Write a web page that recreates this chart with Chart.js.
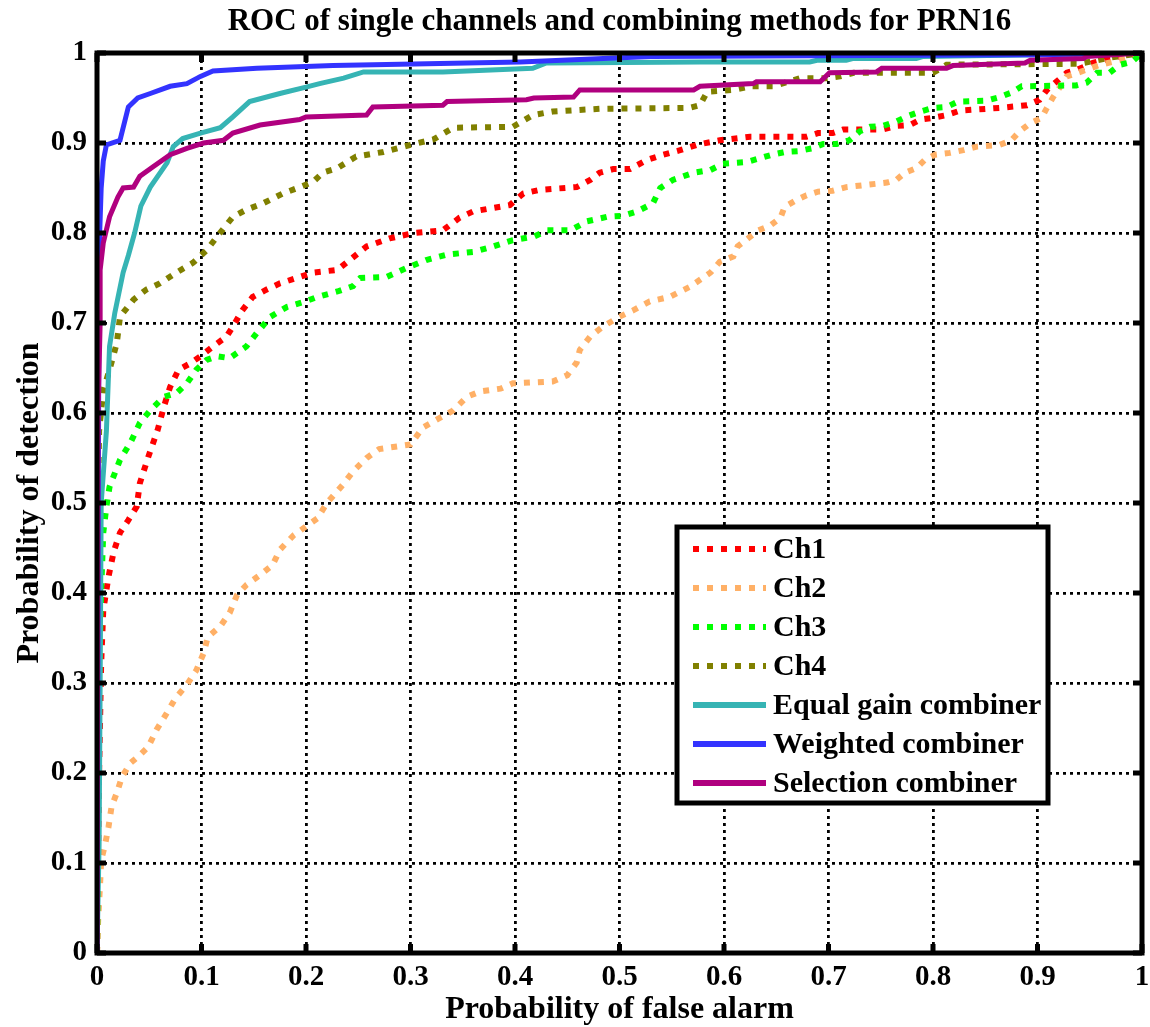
<!DOCTYPE html>
<html>
<head>
<meta charset="utf-8">
<script src="https://cdn.jsdelivr.net/npm/chart.js@4.4.1/dist/chart.umd.min.js"></script>
<style>
  body { margin: 0; background: #fff; }
  #wrap { width: 1150px; height: 1027px; }
</style>
</head>
<body>
<div id="wrap"><canvas id="rocChart" width="1150" height="1027"></canvas></div>
<script>
// ROC curves: each point is [false alarm probability, detection probability]
const seriesNames = ['Ch1', 'Ch2', 'Ch3', 'Ch4', 'Equal gain combiner', 'Weighted combiner', 'Selection combiner'];
const seriesColors = ['#ff0000', '#ffb066', '#00ff00', '#808000', '#36b4b4', '#3333ff', '#b0007f'];
const seriesDotted = [true, true, true, true, false, false, false];

const ch1 = [[0,0],[0.002,0.2],[0.004,0.322],[0.006,0.381],[0.011,0.418],[0.016,0.446],[0.022,0.467],[0.03,0.481],[0.038,0.496],[0.041,0.522],[0.049,0.551],[0.058,0.581],[0.064,0.607],[0.07,0.629],[0.078,0.648],[0.089,0.655],[0.099,0.663],[0.111,0.674],[0.124,0.685],[0.13,0.696],[0.139,0.714],[0.149,0.729],[0.162,0.737],[0.175,0.744],[0.191,0.75],[0.207,0.756],[0.23,0.759],[0.242,0.77],[0.258,0.785],[0.28,0.794],[0.303,0.8],[0.331,0.803],[0.347,0.817],[0.36,0.824],[0.395,0.831],[0.408,0.844],[0.424,0.848],[0.459,0.851],[0.472,0.859],[0.481,0.867],[0.494,0.871],[0.51,0.871],[0.526,0.881],[0.542,0.887],[0.558,0.892],[0.574,0.898],[0.596,0.903],[0.625,0.907],[0.679,0.907],[0.69,0.911],[0.704,0.911],[0.714,0.915],[0.752,0.915],[0.765,0.919],[0.778,0.92],[0.788,0.926],[0.8,0.928],[0.813,0.931],[0.826,0.936],[0.864,0.939],[0.89,0.942],[0.902,0.948],[0.909,0.959],[0.918,0.968],[0.928,0.978],[0.937,0.981],[0.953,0.989],[0.969,0.994],[1,1]];

const ch2 = [[0,0],[0.001,0.033],[0.003,0.078],[0.004,0.103],[0.008,0.122],[0.011,0.14],[0.014,0.163],[0.019,0.178],[0.024,0.196],[0.032,0.211],[0.041,0.22],[0.049,0.229],[0.057,0.248],[0.067,0.267],[0.075,0.283],[0.086,0.298],[0.095,0.314],[0.102,0.333],[0.106,0.351],[0.118,0.363],[0.127,0.378],[0.134,0.398],[0.143,0.409],[0.156,0.42],[0.168,0.431],[0.175,0.448],[0.188,0.464],[0.2,0.474],[0.211,0.483],[0.22,0.5],[0.235,0.52],[0.245,0.535],[0.258,0.55],[0.27,0.56],[0.3,0.565],[0.312,0.584],[0.341,0.603],[0.354,0.618],[0.367,0.624],[0.386,0.627],[0.398,0.633],[0.436,0.635],[0.45,0.642],[0.459,0.656],[0.462,0.67],[0.472,0.685],[0.484,0.696],[0.5,0.707],[0.513,0.714],[0.529,0.724],[0.548,0.729],[0.567,0.74],[0.587,0.756],[0.596,0.768],[0.609,0.774],[0.613,0.785],[0.623,0.794],[0.633,0.803],[0.644,0.808],[0.654,0.817],[0.658,0.829],[0.67,0.837],[0.679,0.842],[0.69,0.846],[0.704,0.847],[0.717,0.851],[0.756,0.856],[0.765,0.859],[0.773,0.867],[0.784,0.872],[0.792,0.881],[0.802,0.887],[0.816,0.889],[0.829,0.892],[0.842,0.896],[0.864,0.898],[0.875,0.903],[0.883,0.913],[0.893,0.922],[0.904,0.928],[0.909,0.939],[0.915,0.951],[0.922,0.963],[0.928,0.974],[0.941,0.979],[0.96,0.987],[0.979,0.992],[1,1]];

const ch3 = [[0,0],[0.002,0.3],[0.004,0.403],[0.006,0.467],[0.009,0.496],[0.012,0.518],[0.022,0.548],[0.032,0.567],[0.041,0.589],[0.051,0.603],[0.064,0.618],[0.076,0.622],[0.086,0.633],[0.095,0.648],[0.105,0.659],[0.115,0.663],[0.127,0.661],[0.143,0.674],[0.153,0.689],[0.166,0.707],[0.182,0.718],[0.197,0.723],[0.211,0.729],[0.23,0.735],[0.245,0.741],[0.252,0.75],[0.277,0.751],[0.296,0.761],[0.315,0.77],[0.335,0.776],[0.36,0.779],[0.379,0.785],[0.398,0.792],[0.418,0.796],[0.431,0.803],[0.453,0.803],[0.469,0.813],[0.488,0.818],[0.503,0.819],[0.517,0.824],[0.532,0.833],[0.539,0.85],[0.551,0.859],[0.571,0.867],[0.587,0.87],[0.599,0.877],[0.622,0.879],[0.634,0.883],[0.646,0.887],[0.658,0.89],[0.671,0.891],[0.684,0.894],[0.695,0.899],[0.708,0.899],[0.72,0.903],[0.73,0.913],[0.74,0.918],[0.752,0.919],[0.765,0.924],[0.776,0.93],[0.788,0.935],[0.8,0.939],[0.813,0.94],[0.824,0.946],[0.851,0.947],[0.864,0.951],[0.875,0.956],[0.885,0.963],[0.937,0.964],[0.947,0.967],[0.957,0.978],[0.969,0.978],[0.979,0.987],[0.99,0.99],[1,1]];

const ch4 = [[0,0],[0.001,0.5],[0.002,0.58],[0.006,0.625],[0.012,0.648],[0.019,0.678],[0.022,0.707],[0.035,0.726],[0.047,0.737],[0.06,0.744],[0.076,0.756],[0.092,0.767],[0.105,0.781],[0.115,0.796],[0.13,0.818],[0.143,0.826],[0.159,0.833],[0.178,0.844],[0.194,0.851],[0.207,0.857],[0.216,0.867],[0.23,0.872],[0.248,0.885],[0.274,0.89],[0.3,0.898],[0.322,0.904],[0.341,0.917],[0.398,0.918],[0.417,0.931],[0.436,0.935],[0.481,0.938],[0.567,0.939],[0.577,0.942],[0.584,0.957],[0.609,0.959],[0.625,0.963],[0.647,0.963],[0.673,0.972],[0.698,0.972],[0.711,0.974],[0.724,0.978],[0.8,0.978],[0.813,0.987],[0.94,0.988],[0.97,0.995],[1,1]];

const equalGain = [[0,0],[0.002,0.12],[0.003,0.3],[0.004,0.5],[0.009,0.58],[0.012,0.674],[0.017,0.711],[0.025,0.756],[0.03,0.775],[0.036,0.8],[0.042,0.83],[0.051,0.851],[0.067,0.878],[0.073,0.896],[0.082,0.905],[0.099,0.911],[0.118,0.917],[0.13,0.929],[0.146,0.946],[0.175,0.955],[0.2,0.962],[0.213,0.966],[0.236,0.972],[0.255,0.979],[0.331,0.979],[0.417,0.983],[0.43,0.989],[0.577,0.99],[0.682,0.99],[0.689,0.992],[0.717,0.992],[0.724,0.994],[0.784,0.994],[0.79,0.996],[0.9,0.998],[1,1]];

const weighted = [[0,0],[0.002,0.78],[0.004,0.85],[0.006,0.88],[0.009,0.898],[0.022,0.903],[0.03,0.94],[0.039,0.95],[0.051,0.955],[0.07,0.963],[0.086,0.966],[0.099,0.974],[0.111,0.98],[0.153,0.983],[0.226,0.986],[0.405,0.99],[0.53,0.996],[0.9,0.998],[1,1]];

const selection = [[0,0],[0.001,0.6],[0.003,0.7],[0.003,0.759],[0.006,0.789],[0.012,0.818],[0.02,0.84],[0.025,0.85],[0.035,0.851],[0.041,0.863],[0.054,0.874],[0.07,0.887],[0.086,0.894],[0.102,0.9],[0.121,0.903],[0.13,0.911],[0.156,0.92],[0.194,0.926],[0.2,0.929],[0.258,0.931],[0.264,0.94],[0.331,0.942],[0.335,0.946],[0.411,0.948],[0.418,0.95],[0.456,0.951],[0.462,0.959],[0.571,0.959],[0.577,0.963],[0.628,0.966],[0.631,0.968],[0.692,0.968],[0.701,0.978],[0.746,0.979],[0.751,0.983],[0.813,0.983],[0.819,0.986],[0.888,0.989],[0.893,0.992],[0.944,0.994],[0.947,0.996],[1,1]];

const tickValues = [0, 0.1, 0.2, 0.3, 0.4, 0.5, 0.6, 0.7, 0.8, 0.9, 1];
const tickLabels = ['0', '0.1', '0.2', '0.3', '0.4', '0.5', '0.6', '0.7', '0.8', '0.9', '1'];
const chartTitle = 'ROC of single channels and combining methods for PRN16';

const allSeries = [ch1, ch2, ch3, ch4, equalGain, weighted, selection];
const FONT = "'Liberation Serif', 'Times New Roman', serif";

Chart.defaults.font.family = FONT;
Chart.defaults.font.weight = 'bold';
Chart.defaults.color = '#000';

// box frame with inward tick marks, drawn over the curves like MATLAB does
const frameAndTicks = {
    id: 'frameAndTicks',
    afterDatasetsDraw(chart) {
        const { ctx, chartArea: a, scales: { x, y } } = chart;
        ctx.save();
        ctx.strokeStyle = '#000';
        ctx.lineWidth = 5;
        ctx.strokeRect(a.left, a.top, a.right - a.left, a.bottom - a.top);
        ctx.beginPath();
        tickValues.forEach(v => {
            const px = x.getPixelForValue(v);
            const py = y.getPixelForValue(v);
            ctx.moveTo(px, a.bottom); ctx.lineTo(px, a.bottom - 9);
            ctx.moveTo(px, a.top); ctx.lineTo(px, a.top + 9);
            ctx.moveTo(a.left, py); ctx.lineTo(a.left + 9, py);
            ctx.moveTo(a.right, py); ctx.lineTo(a.right - 9, py);
        });
        ctx.stroke();
        ctx.restore();
    }
};

// title centred over the plot box, plus the legend box in the lower right
const titleAndLegend = {
    id: 'titleAndLegend',
    afterDraw(chart) {
        const { ctx, chartArea: a } = chart;
        ctx.save();
        ctx.fillStyle = '#000';
        ctx.font = 'bold 31px ' + FONT;
        ctx.textAlign = 'center';
        ctx.textBaseline = 'middle';
        ctx.fillText(chartTitle, (a.left + a.right) / 2, 22);

        const bx = 677, by = 527, bw = 371, bh = 276;
        ctx.fillStyle = '#fff';
        ctx.fillRect(bx, by, bw, bh);
        ctx.strokeStyle = '#000';
        ctx.lineWidth = 5;
        ctx.strokeRect(bx, by, bw, bh);
        ctx.font = 'bold 30px ' + FONT;
        ctx.textAlign = 'left';
        chart.data.datasets.forEach((ds, i) => {
            const ry = by + 22 + i * 39;
            ctx.beginPath();
            ctx.strokeStyle = ds.borderColor;
            ctx.lineWidth = 6;
            ctx.lineCap = 'butt';
            ctx.setLineDash(ds.borderDash || []);
            ctx.moveTo(693, ry);
            ctx.lineTo(766, ry);
            ctx.stroke();
            ctx.setLineDash([]);
            ctx.fillStyle = '#000';
            ctx.fillText(ds.label, 773, ry + 1);
        });
        ctx.restore();
    }
};

const datasets = allSeries.map((s, i) => ({
    label: seriesNames[i],
    data: s.map(p => ({ x: p[0], y: p[1] })),
    borderColor: seriesColors[i],
    backgroundColor: seriesColors[i],
    borderWidth: seriesDotted[i] ? 6 : 5,
    borderDash: seriesDotted[i] ? [6, 8] : [],
    borderCapStyle: 'butt',
    pointRadius: 0,
    tension: 0,
    fill: false,
    order: allSeries.length - i
}));

const ctx = document.getElementById('rocChart').getContext('2d');
const rocChart = new Chart(ctx, {
    type: 'line',
    data: { datasets: datasets },
    options: {
        responsive: false,
        animation: false,
        devicePixelRatio: 1,
        layout: { padding: { left: 0, right: 8, top: 53, bottom: 0 } },
        plugins: {
            legend: { display: false },
            tooltip: { enabled: false },
            title: { display: false }
        },
        scales: {
            x: {
                type: 'linear',
                min: 0,
                max: 1,
                afterFit: s => { s.height = 74; s.paddingLeft = 0; s.paddingRight = 0; },
                afterBuildTicks: s => { s.ticks = tickValues.map(v => ({ value: v })); },
                ticks: {
                    callback: (v, i) => tickLabels[i],
                    font: { size: 29, weight: 'bold' },
                    padding: 7,
                    maxRotation: 0
                },
                grid: { color: '#000', lineWidth: 2.8, drawTicks: false },
                border: { display: false, dash: [3, 4] },
                title: {
                    display: true,
                    text: 'Probability of false alarm',
                    font: { size: 32, weight: 'bold', lineHeight: 1.1 },
                    padding: { top: 0, bottom: 0 }
                }
            },
            y: {
                type: 'linear',
                min: 0,
                max: 1,
                afterFit: s => { s.width = 97; s.paddingTop = 0; s.paddingBottom = 0; },
                afterBuildTicks: s => { s.ticks = tickValues.map(v => ({ value: v })); },
                ticks: {
                    callback: (v, i) => tickLabels[i],
                    font: { size: 29, weight: 'bold' },
                    padding: 10
                },
                grid: { color: '#000', lineWidth: 2.8, drawTicks: false },
                border: { display: false, dash: [3, 4] },
                title: {
                    display: true,
                    text: 'Probability of detection',
                    font: { size: 32, weight: 'bold', lineHeight: 1.1 },
                    padding: { top: 12, bottom: 0 }
                }
            }
        }
    },
    plugins: [frameAndTicks, titleAndLegend]
});
</script>
</body>
</html>
